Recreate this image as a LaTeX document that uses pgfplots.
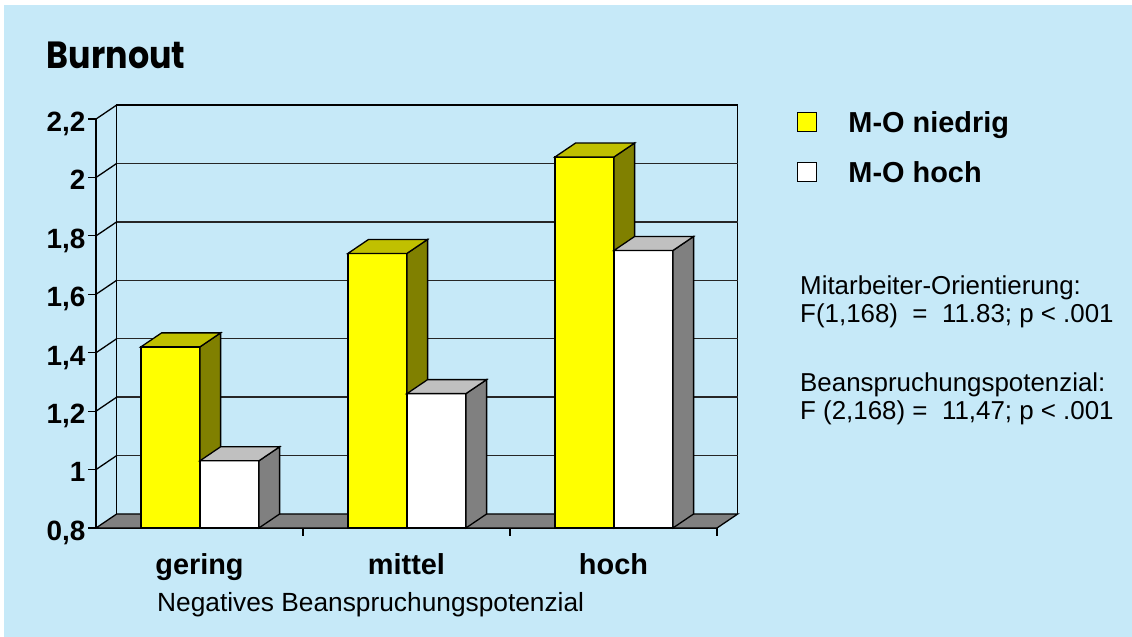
\documentclass[border=0pt]{standalone}
\usepackage{pgfplots}
\pgfplotsset{compat=1.18}
\usepackage{graphicx}
\usepackage{fontspec}
\setmainfont{Liberation Sans}
\newfontfamily\titlefont{Poppins}
\definecolor{bgblue}{RGB}{198,233,248}
\definecolor{yfront}{RGB}{255,255,0}
\definecolor{ytop}{RGB}{192,192,0}
\definecolor{yside}{RGB}{128,128,0}
\definecolor{wtop}{RGB}{192,192,192}
\definecolor{wside}{RGB}{128,128,128}
\definecolor{floorgray}{RGB}{128,128,128}
\begin{document}
\begin{tikzpicture}
\fill[white] (-96bp,-109bp) rectangle (1036bp,528bp);
\fill[bgblue] (-92bp,-109bp) rectangle (1036bp,523bp);
\begin{axis}[
  at={(0bp,0bp)}, anchor=south west,
  x=207bp, y=292.1bp,
  xmin=0, xmax=3, ymin=0.8, ymax=2.2,
  clip=false,
  axis lines*=left,
  axis line style={line width=1.3bp, black},
  tick align=outside,
  major tick length=7.5bp,
  tick style={line width=1.2bp, black},
  ytick={0.8,1,1.2,1.4,1.6,1.8,2,2.2},
  yticklabels={{0,8},1,{1,2},{1,4},{1,6},{1,8},2,{2,2}},
  yticklabel style={anchor=base east, inner sep=0pt, xshift=-3bp, yshift=-12.4bp, font=\fontsize{28}{30}\selectfont\bfseries},
  xtick={1,2,3},
  xticklabels={,,},
  extra x ticks={0.5,1.5,2.5},
  extra x tick labels={gering,mittel,hoch},
  extra x tick style={major tick length=0pt, xticklabel style={anchor=base, inner sep=0pt, yshift=-46bp, font=\fontsize{29}{30}\selectfont\bfseries}},
  xlabel={Negatives Beanspruchungspotenzial},
  xlabel style={at={(axis description cs:0,0)}, anchor=base west, inner sep=0pt, xshift=61bp, yshift=-83bp, font=\fontsize{26.4}{30}\selectfont},
  legend style={draw=none, fill=none, at={(axis description cs:1.1283,1.0194)}, anchor=north west, inner sep=0pt, outer sep=0pt, row sep=28bp, nodes={inner sep=0pt, font=\fontsize{29}{30}\selectfont\bfseries}, /tikz/every odd column/.append style={column sep=32bp}},
  legend cell align=left,
  legend image code/.code={\draw[#1, line width=0.8bp] (0bp,-9bp) rectangle (19bp,10bp);},
]
\addlegendimage{fill=yfront, draw=black}
\addlegendentry{M-O niedrig}
\addlegendimage{fill=white, draw=black}
\addlegendentry{M-O hoch}

% back wall
\addplot[forget plot, black, line width=1.3bp] coordinates {(0.1,0.848) (0.1,2.248) (3.1,2.248) (3.1,0.848)};
% gridlines on back wall
\addplot[forget plot, black!85, line width=1.3bp] coordinates {(0.1,1.048) (3.1,1.048)};
\addplot[forget plot, black!85, line width=1.3bp] coordinates {(0.1,1.248) (3.1,1.248)};
\addplot[forget plot, black!85, line width=1.3bp] coordinates {(0.1,1.448) (3.1,1.448)};
\addplot[forget plot, black!85, line width=1.3bp] coordinates {(0.1,1.648) (3.1,1.648)};
\addplot[forget plot, black!85, line width=1.3bp] coordinates {(0.1,1.848) (3.1,1.848)};
\addplot[forget plot, black!85, line width=1.3bp] coordinates {(0.1,2.048) (3.1,2.048)};
% gridlines on left wall
\addplot[forget plot, black, line width=1.3bp] coordinates {(0,1) (0.1,1.048)};
\addplot[forget plot, black, line width=1.3bp] coordinates {(0,1.2) (0.1,1.248)};
\addplot[forget plot, black, line width=1.3bp] coordinates {(0,1.4) (0.1,1.448)};
\addplot[forget plot, black, line width=1.3bp] coordinates {(0,1.6) (0.1,1.648)};
\addplot[forget plot, black, line width=1.3bp] coordinates {(0,1.8) (0.1,1.848)};
\addplot[forget plot, black, line width=1.3bp] coordinates {(0,2) (0.1,2.048)};
\addplot[forget plot, black, line width=1.3bp] coordinates {(0,2.2) (0.1,2.248)};
% floor
\addplot[forget plot, fill=floorgray, draw=black, line width=1.3bp] coordinates {(0,0.8) (3,0.8) (3.1,0.848) (0.1,0.848)} -- cycle;

% gering: M-O niedrig 1.42, M-O hoch 1.03
\addplot[forget plot, fill=yfront, draw=black, line width=1.3bp] coordinates {(0.217,0.8) (0.502,0.8) (0.502,1.42) (0.217,1.42)} -- cycle;
\addplot[forget plot, fill=yside, draw=black, line width=1.3bp] coordinates {(0.502,0.8) (0.602,0.848) (0.602,1.468) (0.502,1.42)} -- cycle;
\addplot[forget plot, fill=ytop, draw=black, line width=1.3bp] coordinates {(0.217,1.42) (0.502,1.42) (0.602,1.468) (0.317,1.468)} -- cycle;
\addplot[forget plot, fill=white, draw=black, line width=1.3bp] coordinates {(0.502,0.8) (0.787,0.8) (0.787,1.03) (0.502,1.03)} -- cycle;
\addplot[forget plot, fill=wside, draw=black, line width=1.3bp] coordinates {(0.787,0.8) (0.887,0.848) (0.887,1.078) (0.787,1.03)} -- cycle;
\addplot[forget plot, fill=wtop, draw=black, line width=1.3bp] coordinates {(0.502,1.03) (0.787,1.03) (0.887,1.078) (0.602,1.078)} -- cycle;

% mittel: M-O niedrig 1.74, M-O hoch 1.26
\addplot[forget plot, fill=yfront, draw=black, line width=1.3bp] coordinates {(1.217,0.8) (1.502,0.8) (1.502,1.74) (1.217,1.74)} -- cycle;
\addplot[forget plot, fill=yside, draw=black, line width=1.3bp] coordinates {(1.502,0.8) (1.602,0.848) (1.602,1.788) (1.502,1.74)} -- cycle;
\addplot[forget plot, fill=ytop, draw=black, line width=1.3bp] coordinates {(1.217,1.74) (1.502,1.74) (1.602,1.788) (1.317,1.788)} -- cycle;
\addplot[forget plot, fill=white, draw=black, line width=1.3bp] coordinates {(1.502,0.8) (1.787,0.8) (1.787,1.26) (1.502,1.26)} -- cycle;
\addplot[forget plot, fill=wside, draw=black, line width=1.3bp] coordinates {(1.787,0.8) (1.887,0.848) (1.887,1.308) (1.787,1.26)} -- cycle;
\addplot[forget plot, fill=wtop, draw=black, line width=1.3bp] coordinates {(1.502,1.26) (1.787,1.26) (1.887,1.308) (1.602,1.308)} -- cycle;

% hoch: M-O niedrig 2.07, M-O hoch 1.75
\addplot[forget plot, fill=yfront, draw=black, line width=1.3bp] coordinates {(2.217,0.8) (2.502,0.8) (2.502,2.07) (2.217,2.07)} -- cycle;
\addplot[forget plot, fill=yside, draw=black, line width=1.3bp] coordinates {(2.502,0.8) (2.602,0.848) (2.602,2.118) (2.502,2.07)} -- cycle;
\addplot[forget plot, fill=ytop, draw=black, line width=1.3bp] coordinates {(2.217,2.07) (2.502,2.07) (2.602,2.118) (2.317,2.118)} -- cycle;
\addplot[forget plot, fill=white, draw=black, line width=1.3bp] coordinates {(2.502,0.8) (2.787,0.8) (2.787,1.75) (2.502,1.75)} -- cycle;
\addplot[forget plot, fill=wside, draw=black, line width=1.3bp] coordinates {(2.787,0.8) (2.887,0.848) (2.887,1.798) (2.787,1.75)} -- cycle;
\addplot[forget plot, fill=wtop, draw=black, line width=1.3bp] coordinates {(2.502,1.75) (2.787,1.75) (2.887,1.798) (2.602,1.798)} -- cycle;
\end{axis}
\node[anchor=base west, inner sep=0pt] at (-49.3bp,459.7bp) {\scalebox{0.88}[1]{\titlefont\bfseries\fontsize{38}{42}\selectfont Burnout}};
\node[anchor=base west, inner sep=0pt, font=\fontsize{26}{30}\selectfont] at (704bp,233bp) {Mitarbeiter-Orientierung:};
\node[anchor=base west, inner sep=0pt, font=\fontsize{26}{30}\selectfont] at (704bp,205bp) {F(1,168)\ \ =\ \ 11.83; p < .001};
\node[anchor=base west, inner sep=0pt, font=\fontsize{26}{30}\selectfont] at (704bp,136.3bp) {Beanspruchungspotenzial:};
\node[anchor=base west, inner sep=0pt, font=\fontsize{26}{30}\selectfont] at (704bp,108bp) {F (2,168) =\ \ 11,47; p < .001};
\pgfresetboundingbox
\useasboundingbox (-96bp,-109bp) rectangle (1036bp,528bp);
\end{tikzpicture}
\end{document}
